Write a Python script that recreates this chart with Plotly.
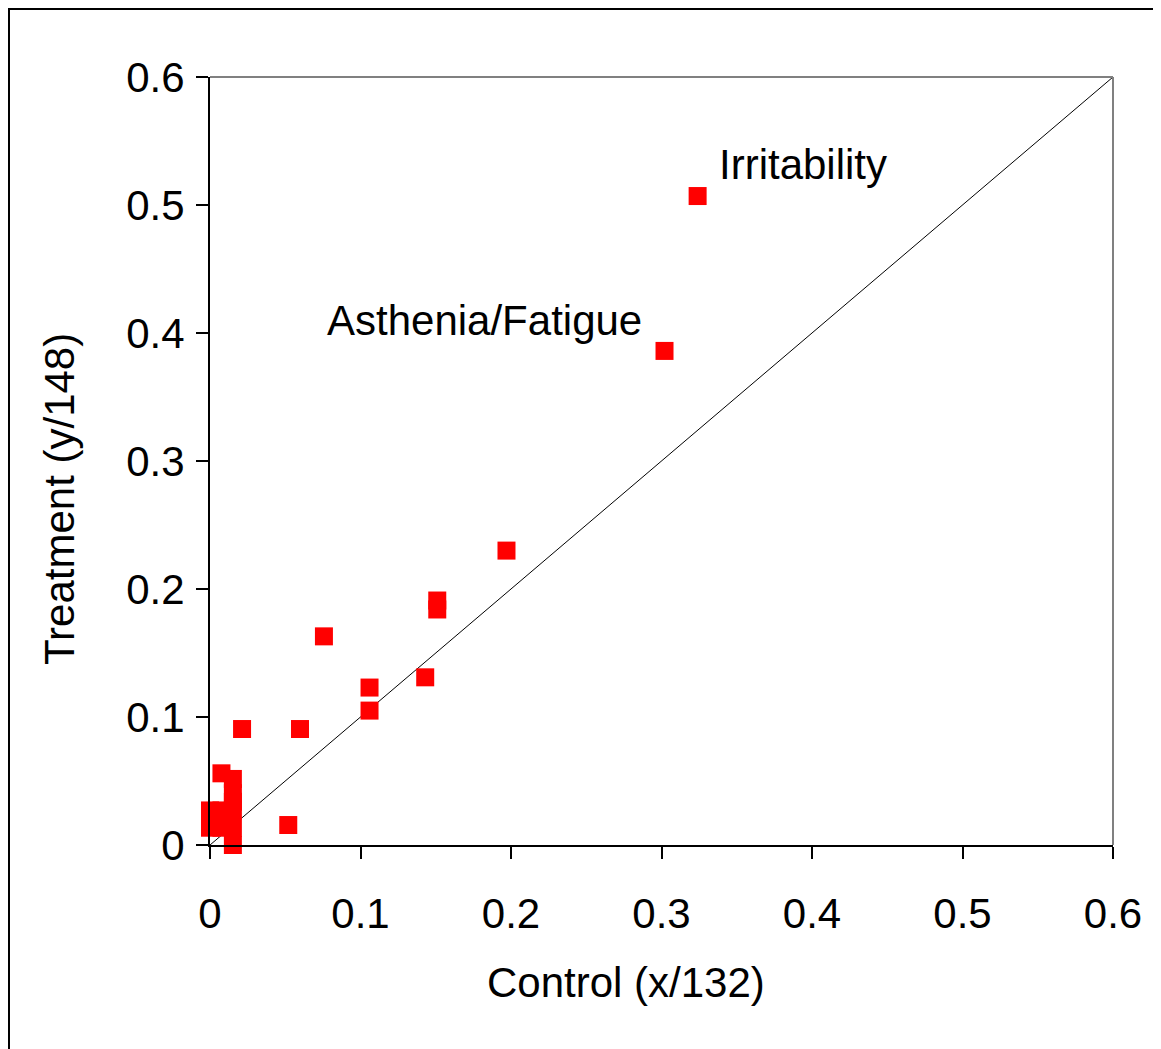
import plotly.graph_objects as go

# Data (proportions)
control = [0.0, 0.0, 0.0076, 0.0076, 0.0076, 0.0076,
           0.0152, 0.0152, 0.0152, 0.0152, 0.0152, 0.0152,
           0.0213, 0.052, 0.0598, 0.0757, 0.106, 0.106, 0.143,
           0.151, 0.151, 0.197, 0.302, 0.324]
treatment = [0.0135, 0.027, 0.0135, 0.0203, 0.027, 0.056,
             0.0, 0.0135, 0.027, 0.0338, 0.0405, 0.0516,
             0.0906, 0.0156, 0.0906, 0.163, 0.123, 0.105, 0.131,
             0.191, 0.184, 0.230, 0.386, 0.507]

label_text = ["Irritability", "Asthenia/Fatigue"]
label_x = [0.337, 0.0764]
label_y = [0.532, 0.41]

diag = [0, 0.6]

ticks = [0, 0.1, 0.2, 0.3, 0.4, 0.5, 0.6]
tick_text = ["0", "0.1", "0.2", "0.3", "0.4", "0.5", "0.6"]

x_title = "Control (x/132)"
y_title = "Treatment (y/148)"

FONT = "Liberation Sans, Arial, sans-serif"
FS = 42

fig = go.Figure()
fig.add_trace(go.Scatter(x=diag, y=diag, mode="lines",
                         line=dict(color="black", width=1), hoverinfo="skip",
                         showlegend=False))
fig.add_trace(go.Scatter(x=control, y=treatment, mode="markers",
                         marker=dict(symbol="square", size=18, color="#FF0000",
                                     line=dict(width=0)),
                         showlegend=False, cliponaxis=False))

for t, x, y in zip(label_text, label_x, label_y):
    fig.add_annotation(x=x, y=y, text=t, showarrow=False, xanchor="left",
                       yanchor="middle", font=dict(family=FONT, size=FS, color="black"))

# axis titles (placed as in the original, not centred on the plot area)
fig.add_annotation(xref="paper", yref="paper", x=0.4607, y=-0.1784, text=x_title,
                   showarrow=False, xanchor="center", yanchor="middle",
                   font=dict(family=FONT, size=FS, color="black"))
fig.add_annotation(xref="paper", yref="paper", x=-0.1672, y=0.4505, text=y_title,
                   showarrow=False, xanchor="center", yanchor="middle", textangle=-90,
                   font=dict(family=FONT, size=FS, color="black"))

# gray top/right frame of the plot area
fig.add_shape(type="line", xref="paper", yref="paper", x0=0, x1=1, y0=1, y1=1,
              line=dict(color="#808080", width=2))
fig.add_shape(type="line", xref="paper", yref="paper", x0=1, x1=1, y0=0, y1=1,
              line=dict(color="#808080", width=2))
# outer chart border (partly cropped)
fig.add_shape(type="rect", xref="paper", yref="paper",
              x0=-0.2226, x1=1.3, y0=-0.5, y1=1.0885,
              line=dict(color="black", width=2), layer="below")

fig.update_layout(
    width=1161, height=1049,
    margin=dict(l=202, r=56, t=69, b=212),
    paper_bgcolor="white", plot_bgcolor="white",
    font=dict(family=FONT, size=FS, color="black"),
    xaxis=dict(range=[0, 0.6], tickvals=ticks, ticktext=tick_text,
               showgrid=False, zeroline=False, showline=True, linecolor="black",
               linewidth=2, ticks="outside", ticklen=12, tickwidth=2, tickcolor="black",
               ticklabelstandoff=19),
    yaxis=dict(range=[0, 0.6], tickvals=ticks, ticktext=tick_text,
               showgrid=False, zeroline=False, showline=True, linecolor="black",
               linewidth=2, ticks="outside", ticklen=12, tickwidth=2, tickcolor="black",
               ticklabelstandoff=3),
)

fig.write_html("out.html")
